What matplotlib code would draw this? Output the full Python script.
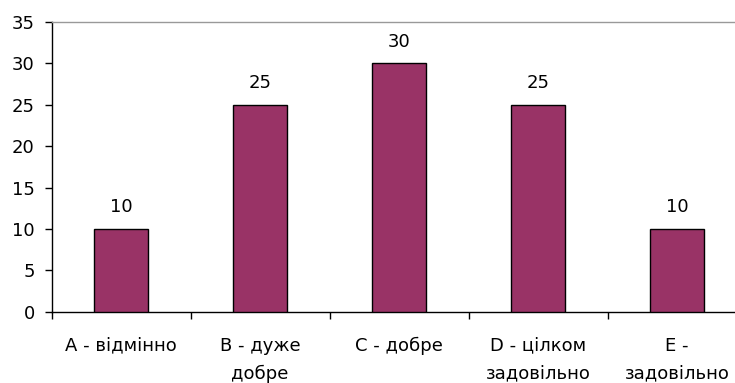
import matplotlib
matplotlib.use("Agg")
import matplotlib.pyplot as plt
import numpy as np

categories = ["A - відмінно", "B - дуже\nдобре", "C - добре", "D - цілком\nзадовільно", "E -\nзадовільно"]
values = [10, 25, 30, 25, 10]
y_ticks = [0, 5, 10, 15, 20, 25, 30, 35]

plt.rcParams["font.family"] = ["DejaVu Sans"]

fig = plt.figure(figsize=(7.35, 3.83), dpi=100)
ax = fig.add_axes([51.5 / 735, 71.3 / 383, 695 / 735, 289.7 / 383])

x = np.arange(len(categories))
bars = ax.bar(x, values, width=0.39, color="#993366", edgecolor="black", linewidth=1.0, zorder=3)

for xi, v in zip(x, values):
    ax.annotate(str(v), (xi, v), xytext=(0, 9), textcoords="offset points",
                ha="center", va="bottom", fontsize=13, color="black")

ax.set_xlim(-0.5, len(categories) - 0.5)
ax.set_ylim(0, 35)
ax.set_yticks(y_ticks)
ax.set_xticks(x)
ax.set_xticklabels(categories, fontsize=13, linespacing=1.7)
ax.set_xticks(np.arange(len(categories) + 1) - 0.5, minor=True)
ax.tick_params(axis="x", which="major", length=0, pad=18)
ax.tick_params(axis="x", which="minor", length=5, width=1, color="black", direction="out")
ax.tick_params(axis="y", length=5, width=1, color="black", direction="out", labelsize=13, pad=7)

for side in ("left", "bottom"):
    ax.spines[side].set_color("black")
    ax.spines[side].set_linewidth(1.0)
ax.spines["top"].set_color("#999999")
ax.spines["top"].set_linewidth(1.0)
ax.spines["right"].set_visible(False)

fig.savefig("out.png", dpi=100)
